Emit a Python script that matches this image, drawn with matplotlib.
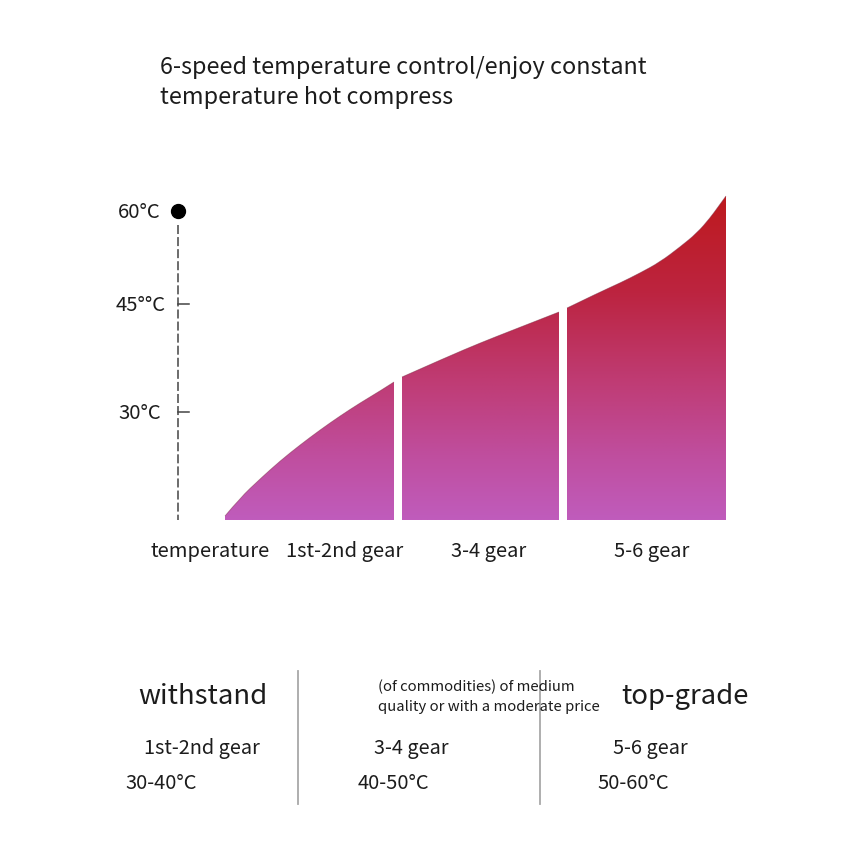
import matplotlib
matplotlib.use("Agg")
import matplotlib.pyplot as plt
from matplotlib.colors import LinearSegmentedColormap
from matplotlib.patches import PathPatch
from matplotlib.path import Path
import numpy as np

plt.rcParams['font.family'] = ['Noto Sans CJK SC', 'DejaVu Sans']

# curve, axes run in image pixels
seg1_x = [225, 240, 260, 280, 300, 320, 340, 360, 380, 394]
seg1_y = [516, 498, 479, 461, 445, 430, 416, 403, 391, 382]
seg2_x = [402, 447, 480, 513, 559]
seg2_y = [377, 357, 343, 330, 312]
seg3_x = [567, 600, 620, 640, 660, 680, 697, 710, 718, 726]
seg3_y = [308, 292, 283, 273, 262, 247, 233, 218, 207, 196]
base_y = 520

temp_labels = ["60°C", "45°°C", "30°C"]
temp_pos = [211, 304, 412]
gear_labels = ["temperature", "1st-2nd gear", "3-4 gear", "5-6 gear"]
gear_pos = [210, 345, 489, 652]

col_titles = ["withstand", "top-grade"]
col_gears = ["1st-2nd gear", "3-4 gear", "5-6 gear"]
col_ranges = ["30-40°C", "40-50°C", "50-60°C"]

TXT = "#1C1C1C"


def smooth_top(sx, sy):
    # quadratic curve through the midpoints, keeps the ends
    verts = [(sx[0], sy[0])]
    codes = [Path.MOVETO]
    for i in range(1, len(sx) - 1):
        end = (sx[-1], sy[-1]) if i == len(sx) - 2 else ((sx[i] + sx[i + 1]) / 2, (sy[i] + sy[i + 1]) / 2)
        verts += [(sx[i], sy[i]), end]
        codes += [Path.CURVE3, Path.CURVE3]
    return verts, codes


fig = plt.figure(figsize=(8.5, 8.5), dpi=100)
ax = fig.add_axes([0, 0, 1, 1])
ax.set_xlim(0, 850)
ax.set_ylim(850, 0)
ax.axis("off")

# title
ax.text(160, 67, "6-speed temperature control/enjoy constant", fontsize=16.85, color=TXT, va="center")
ax.text(160, 97, "temperature hot compress", fontsize=16.85, color=TXT, va="center")

# gradient, clipped to each segment
cmap = LinearSegmentedColormap.from_list("heat", [
    (0.0, "#BE1A1E"), (0.30, "#BC2440"), (0.55, "#BF3A70"),
    (0.80, "#BF4E9E"), (1.0, "#C05CBC")])
grad = np.linspace(0, 1, 256).reshape(-1, 1)
for sx, sy in [(seg1_x, seg1_y), (seg2_x, seg2_y), (seg3_x, seg3_y)]:
    verts, codes = smooth_top(sx, sy)
    top = Path(verts, codes)
    fill = Path(verts + [(sx[-1], base_y), (sx[0], base_y), (sx[0], sy[0])],
                codes + [Path.LINETO, Path.LINETO, Path.LINETO])
    poly = PathPatch(fill, transform=ax.transData, fc="none", ec="none")
    ax.add_patch(poly)
    im = ax.imshow(grad, cmap=cmap, extent=[sx[0] - 3, sx[-1], base_y, 196],
                   aspect="auto", zorder=2)
    im.set_clip_path(poly)
    # thin darker rim along the top edge
    ax.add_patch(PathPatch(top, fc="none", ec="#7A2A40", lw=0.6, alpha=0.5, zorder=3))
ax.set_xlim(0, 850)
ax.set_ylim(850, 0)

# temperature axis
ax.plot([178, 178], [225, 520], color="#444444", lw=1.1, dashes=(5.9, 2))
ax.plot([178], [temp_pos[0]], "o", color="black", ms=10)
for y in temp_pos[1:]:
    ax.plot([178, 189], [y, y], color="#444444", lw=1.1)
for lab, y, x in zip(temp_labels, temp_pos, [118, 116, 118]):
    ax.text(x, y + 1.5, lab, fontsize=14.6, color=TXT, ha="left", va="center")

for lab, x in zip(gear_labels, gear_pos):
    ax.text(x, 551, lab, fontsize=14.5, color=TXT, ha="center", va="center")

# lower table
ax.plot([298, 298], [671, 804], color="#A8A8A8", lw=1.3)
ax.plot([540, 540], [671, 804], color="#A8A8A8", lw=1.3)
ax.text(203, 696, col_titles[0], fontsize=19.8, color=TXT, ha="center", va="center")
ax.text(685, 696, col_titles[1], fontsize=19.8, color=TXT, ha="center", va="center")
ax.text(378, 686.5, "(of commodities) of medium", fontsize=10.7, color=TXT, va="center")
ax.text(378, 706.5, "quality or with a moderate price", fontsize=10.7, color=TXT, va="center")
for lab, x in zip(col_gears, [202, 411, 650]):
    ax.text(x, 748.5, lab, fontsize=14.3, color=TXT, ha="center", va="center")
for lab, x in zip(col_ranges, [161, 393, 633]):
    ax.text(x, 783.5, lab, fontsize=14.5, color=TXT, ha="center", va="center")

fig.savefig("out.png", dpi=100, facecolor="white")
